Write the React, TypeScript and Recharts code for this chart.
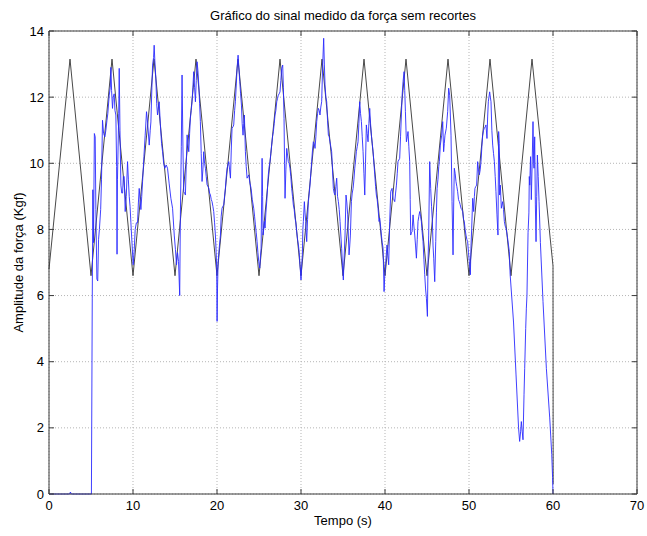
import {
  CartesianGrid,
  Line,
  LineChart,
  ReferenceLine,
  XAxis,
  YAxis,
} from "recharts";

const X_TICKS = [0, 10, 20, 30, 40, 50, 60, 70];
const Y_TICKS = [0, 2, 4, 6, 8, 10, 12, 14];

// sinal de referência (preto): [tempo, força]
const reference: [number, number][] = [
  [0, 6.8], [2.5, 13.15], [5, 6.6], [7.5, 13.15], [10, 6.6], [12.5, 13.15],
  [15, 6.6], [17.5, 13.15], [20, 6.6], [22.5, 13.15], [25, 6.6], [27.5, 13.15],
  [30, 6.6], [32.5, 13.15], [35, 6.6], [37.5, 13.15], [40, 6.6], [42.5, 13.15],
  [45, 6.6], [47.5, 13.15], [50, 6.6], [52.5, 13.15], [55, 6.6], [57.5, 13.15],
  [60, 6.9], [60.02, 0.3],
];

// sinal medido (azul): [tempo, força]
const measured: [number, number][] = [
  [0, 0], [2.45, 0], [2.55, 0.06], [2.65, 0], [5.05, 0], [5.15, 5.9], [5.22, 9.2],
  [5.3, 7.6], [5.4, 10.9], [5.5, 10.8], [5.58, 8.6], [5.7, 6.5], [5.8, 6.44],
  [5.9, 7.7], [6.0, 8.0], [6.15, 8.6], [6.25, 9.5], [6.37, 11.3], [6.5, 10.9],
  [6.65, 10.8], [6.77, 11.0], [6.9, 11.3], [7.0, 11.5], [7.17, 12.06], [7.3, 12.3],
  [7.37, 12.9], [7.45, 12.2], [7.56, 11.66], [7.65, 12.0], [7.76, 12.1], [7.85, 11.6],
  [7.96, 11.46], [8.05, 9.9], [8.1, 7.25], [8.15, 9.5], [8.3, 11.5], [8.36, 12.87],
  [8.45, 11.0], [8.56, 9.34], [8.66, 9.1], [8.76, 9.1], [8.85, 9.6], [8.95, 9.6],
  [9.07, 8.54], [9.2, 9.0], [9.35, 10.05], [9.45, 9.5], [9.55, 9.0], [9.65, 8.7],
  [9.75, 8.2], [9.9, 7.5], [10.02, 6.93], [10.15, 7.4], [10.26, 8.0], [10.4, 8.2],
  [10.54, 8.2], [10.64, 8.8], [10.74, 9.24], [10.84, 8.9], [10.94, 8.6], [11.04, 9.0],
  [11.14, 9.45], [11.3, 10.2], [11.45, 10.85], [11.61, 11.56], [11.75, 11.2],
  [11.93, 10.55], [12.05, 11.0], [12.13, 11.25], [12.25, 12.3], [12.33, 12.97],
  [12.45, 13.2], [12.52, 13.57], [12.6, 13.1], [12.72, 12.57], [12.82, 11.8],
  [12.92, 11.46], [13.02, 11.7], [13.12, 11.86], [13.25, 11.2], [13.4, 10.6],
  [13.52, 10.35], [13.65, 10.0], [13.79, 9.85], [13.95, 9.95], [14.11, 9.85],
  [14.3, 9.4], [14.51, 8.94], [14.71, 8.64], [14.91, 7.83], [15.05, 7.4], [15.18, 6.93],
  [15.3, 7.3], [15.42, 7.03], [15.56, 6.0], [15.64, 8.44], [15.75, 10.5], [15.84, 12.67],
  [15.95, 10.4], [16.04, 9.14], [16.14, 9.1], [16.24, 9.04], [16.34, 10.0], [16.44, 10.86],
  [16.54, 10.6], [16.64, 10.35], [16.74, 10.9], [16.83, 11.36], [16.93, 11.6],
  [17.03, 11.86], [17.13, 12.3], [17.23, 12.77], [17.33, 12.3], [17.43, 11.86],
  [17.53, 12.5], [17.63, 13.07], [17.73, 12.8], [17.83, 12.37], [17.93, 11.8],
  [18.02, 11.26], [18.12, 10.3], [18.22, 9.45], [18.32, 9.8], [18.42, 10.35],
  [18.52, 10.0], [18.62, 9.85], [18.72, 9.6], [18.82, 9.35], [18.92, 9.3], [19.02, 9.25],
  [19.12, 9.1], [19.22, 9.04], [19.32, 8.9], [19.41, 8.84], [19.51, 8.7], [19.61, 8.54],
  [19.71, 8.2], [19.81, 7.83], [19.9, 7.3], [19.96, 6.83], [20.01, 5.22], [20.06, 6.2],
  [20.13, 7.0], [20.25, 7.4], [20.41, 7.83], [20.5, 8.4], [20.6, 8.64], [20.7, 8.7],
  [20.8, 8.74], [20.9, 9.0], [21.0, 9.24], [21.1, 9.6], [21.2, 9.85], [21.3, 9.95],
  [21.4, 10.05], [21.5, 9.8], [21.6, 9.55], [21.7, 10.4], [21.79, 11.06], [21.9, 11.1],
  [21.99, 11.16], [22.1, 11.6], [22.19, 11.86], [22.3, 12.4], [22.39, 12.87],
  [22.51, 13.27], [22.6, 12.9], [22.71, 12.47], [22.81, 12.1], [22.91, 11.76],
  [23.0, 11.2], [23.1, 10.85], [23.18, 11.2], [23.26, 11.46], [23.38, 10.35],
  [23.48, 9.9], [23.58, 9.55], [23.68, 9.6], [23.78, 9.65], [23.92, 9.4], [24.06, 9.24],
  [24.2, 8.9], [24.37, 8.64], [24.47, 8.4], [24.57, 8.14], [24.67, 7.9], [24.77, 7.63],
  [24.87, 7.3], [24.97, 7.03], [25.09, 6.83], [25.18, 7.2], [25.25, 7.43], [25.31, 8.8],
  [25.37, 10.15], [25.43, 9.0], [25.48, 7.83], [25.56, 8.0], [25.64, 8.24], [25.72, 8.04],
  [25.82, 8.5], [25.92, 8.84], [26.02, 9.3], [26.11, 9.65], [26.21, 9.9], [26.31, 10.05],
  [26.41, 10.3], [26.51, 10.55], [26.61, 10.8], [26.71, 10.96], [26.81, 11.2],
  [26.91, 11.46], [27.01, 11.6], [27.11, 11.86], [27.2, 11.95], [27.3, 12.06],
  [27.4, 12.1], [27.5, 12.16], [27.6, 12.5], [27.7, 12.87], [27.82, 12.97], [27.9, 12.3],
  [27.98, 11.36], [28.04, 10.0], [28.1, 8.94], [28.2, 9.8], [28.3, 10.45], [28.4, 10.25],
  [28.49, 10.05], [28.59, 10.0], [28.69, 9.85], [28.79, 9.6], [28.89, 9.24], [28.99, 9.0],
  [29.09, 8.74], [29.19, 8.6], [29.29, 8.34], [29.39, 8.2], [29.49, 7.93], [29.59, 7.7],
  [29.69, 7.53], [29.79, 7.3], [29.88, 6.93], [30.0, 6.47], [30.08, 6.9], [30.16, 7.23],
  [30.22, 8.0], [30.28, 8.24], [30.4, 8.84], [30.48, 8.5], [30.56, 8.24], [30.62, 7.9],
  [30.68, 7.63], [30.78, 8.3], [30.88, 8.84], [30.98, 9.1], [31.07, 9.34], [31.17, 9.7],
  [31.27, 10.05], [31.37, 10.4], [31.47, 10.65], [31.57, 10.6], [31.67, 10.45],
  [31.77, 10.8], [31.87, 11.26], [31.97, 11.5], [32.07, 11.66], [32.17, 11.6],
  [32.26, 11.46], [32.36, 11.7], [32.46, 11.86], [32.58, 12.97], [32.7, 13.78],
  [32.78, 13.0], [32.86, 12.37], [32.96, 12.0], [33.06, 11.86], [33.16, 11.3],
  [33.26, 10.85], [33.36, 10.8], [33.45, 10.65], [33.55, 10.5], [33.65, 10.35],
  [33.75, 9.8], [33.85, 9.24], [33.95, 9.1], [34.05, 9.04], [34.15, 9.3], [34.25, 9.55],
  [34.35, 9.0], [34.45, 8.84], [34.55, 8.6], [34.65, 8.24], [34.75, 7.8], [34.84, 7.43],
  [34.94, 6.9], [35.04, 6.47], [35.14, 7.2], [35.24, 7.83], [35.36, 9.04], [35.46, 8.8],
  [35.56, 8.44], [35.64, 7.8], [35.72, 7.23], [35.8, 7.5], [35.88, 7.83], [36.0, 8.84],
  [36.1, 9.1], [36.2, 9.24], [36.3, 9.5], [36.4, 9.85], [36.5, 10.1], [36.59, 10.35],
  [36.69, 10.5], [36.79, 10.65], [36.89, 11.2], [36.99, 11.86], [37.09, 11.5],
  [37.19, 11.26], [37.29, 10.8], [37.39, 10.35], [37.49, 9.7], [37.59, 9.04],
  [37.68, 10.0], [37.78, 11.16], [37.88, 10.9], [37.98, 10.65], [38.08, 11.2],
  [38.18, 11.66], [38.28, 11.2], [38.38, 10.85], [38.48, 10.6], [38.58, 10.35],
  [38.68, 10.0], [38.78, 9.65], [38.88, 9.3], [38.97, 9.04], [39.07, 8.9], [39.17, 8.64],
  [39.29, 8.24], [39.37, 8.34], [39.47, 8.1], [39.57, 7.83], [39.67, 7.6], [39.77, 7.43],
  [39.89, 6.12], [39.97, 6.6], [40.05, 6.83], [40.14, 7.2], [40.24, 7.53], [40.34, 7.2],
  [40.44, 6.93], [40.56, 8.24], [40.68, 9.14], [40.76, 9.2], [40.84, 9.24], [40.96, 8.94],
  [41.06, 8.9], [41.16, 8.84], [41.26, 9.1], [41.36, 9.34], [41.46, 9.7], [41.55, 10.05],
  [41.65, 10.1], [41.75, 10.15], [41.85, 10.8], [41.95, 11.46], [42.05, 12.1],
  [42.15, 12.47], [42.27, 12.77], [42.35, 12.2], [42.43, 11.56], [42.5, 11.0],
  [42.55, 10.65], [42.65, 10.8], [42.74, 10.96], [42.84, 10.5], [42.94, 10.05],
  [43.0, 8.9], [43.06, 7.83], [43.14, 7.9], [43.22, 7.93], [43.34, 8.44], [43.44, 8.1],
  [43.54, 7.83], [43.64, 7.5], [43.74, 7.13], [43.84, 7.7], [43.93, 8.24], [44.03, 8.4],
  [44.13, 8.54], [44.23, 8.4], [44.33, 8.24], [44.43, 7.9], [44.53, 7.63], [44.63, 7.1],
  [44.73, 6.63], [44.83, 6.2], [44.93, 5.92], [45.05, 5.37], [45.12, 7.0], [45.2, 7.83],
  [45.32, 10.05], [45.44, 9.24], [45.54, 8.7], [45.64, 8.24], [45.72, 7.5], [45.8, 7.13],
  [45.92, 6.42], [46.04, 7.63], [46.12, 8.5], [46.2, 9.24], [46.3, 9.5], [46.4, 9.9],
  [46.47, 10.05], [46.59, 10.55], [46.75, 10.85], [46.87, 11.26], [46.98, 10.35],
  [47.06, 10.6], [47.14, 10.85], [47.3, 11.06], [47.46, 11.56], [47.58, 12.27],
  [47.7, 12.06], [47.86, 10.85], [47.98, 8.84], [48.1, 7.23], [48.18, 8.8], [48.25, 9.85],
  [48.35, 9.7], [48.45, 9.45], [48.55, 9.3], [48.65, 9.14], [48.75, 8.9], [48.85, 8.84],
  [48.95, 8.75], [49.05, 8.64], [49.15, 8.6], [49.25, 8.54], [49.35, 8.3], [49.44, 8.24],
  [49.54, 8.0], [49.64, 7.83], [49.74, 7.7], [49.84, 7.63], [49.94, 7.3], [50.04, 7.03],
  [50.16, 6.63], [50.24, 7.5], [50.32, 8.04], [50.44, 8.94], [50.5, 8.8], [50.56, 8.54],
  [50.64, 9.0], [50.71, 9.24], [50.81, 9.3], [50.91, 9.34], [51.03, 10.05], [51.13, 9.8],
  [51.23, 9.65], [51.33, 9.8], [51.43, 10.05], [51.53, 10.5], [51.63, 10.85],
  [51.73, 11.0], [51.83, 11.06], [51.93, 11.1], [52.02, 11.16], [52.14, 10.75],
  [52.22, 11.4], [52.3, 11.86], [52.46, 12.16], [52.54, 12.0], [52.62, 11.86],
  [52.72, 11.0], [52.82, 10.55], [52.92, 10.3], [53.02, 10.05], [53.12, 9.6],
  [53.21, 9.14], [53.33, 8.44], [53.45, 7.83], [53.53, 10.96], [53.6, 10.6],
  [53.65, 9.04], [53.73, 9.34], [53.85, 8.64], [54.01, 8.84], [54.11, 8.6], [54.21, 8.24],
  [54.31, 8.1], [54.4, 8.04], [54.5, 7.9], [54.6, 7.73], [54.7, 7.53], [54.8, 7.33],
  [54.9, 6.63], [55.3, 5.2], [55.6, 3.6], [55.9, 2.0], [56.03, 1.59], [56.15, 1.9],
  [56.23, 2.19], [56.33, 1.9], [56.43, 1.64], [56.55, 3.0], [56.63, 3.8], [56.75, 5.0],
  [56.83, 5.62], [56.9, 6.0], [57.03, 7.9], [57.13, 8.5], [57.18, 9.6], [57.23, 9.34],
  [57.33, 10.2], [57.42, 8.9], [57.52, 10.0], [57.62, 11.26], [57.7, 10.0], [57.74, 9.85],
  [57.82, 10.8], [57.9, 8.74], [57.98, 7.63], [58.06, 9.0], [58.14, 10.25], [58.24, 9.6],
  [58.34, 8.84], [58.5, 7.6], [58.81, 5.82], [59.21, 3.8], [59.61, 2.3], [59.85, 1.2],
  [59.95, 0.5], [60.0, 0],
];

const referenceData = reference.map(([t, f]) => ({ t, f }));
const measuredData = measured.map(([t, f]) => ({ t, f }));

// layout of the plot box (px inside the svg)
const PLOT_LEFT = 49;
const PLOT_TOP = 31;
const PLOT_RIGHT = 637;
const PLOT_BOTTOM = 494;
const Y_AXIS_W = 40;
const X_AXIS_H = 20;

const FONT = "'Liberation Sans', Arial, Helvetica, sans-serif";
const AXIS_COLOR = "#3a3a3a";
const TICK_LEN = 5;

const BottomTick = (props: any) => {
  const { x, y, payload } = props;
  const axisY = y - 7;
  return (
    <g>
      <line x1={x} x2={x} y1={axisY} y2={axisY - TICK_LEN} stroke={AXIS_COLOR} />
      <line x1={x} x2={x} y1={PLOT_TOP} y2={PLOT_TOP + TICK_LEN} stroke={AXIS_COLOR} />
      <text x={x} y={y} dy="0.71em" textAnchor="middle" fontSize={13} fontFamily={FONT} fill="#000">
        {payload.value}
      </text>
    </g>
  );
};

const LeftTick = (props: any) => {
  const { x, y, payload } = props;
  const axisX = x + 5;
  return (
    <g>
      <line x1={axisX} x2={axisX + TICK_LEN} y1={y} y2={y} stroke={AXIS_COLOR} />
      <line x1={PLOT_RIGHT} x2={PLOT_RIGHT - TICK_LEN} y1={y} y2={y} stroke={AXIS_COLOR} />
      <text x={x} y={y} dy="0.355em" textAnchor="end" fontSize={13} fontFamily={FONT} fill="#000">
        {payload.value}
      </text>
    </g>
  );
};

export default function App() {
  return (
    <div style={{ position: "absolute", left: 0, top: 0, width: 647, height: 536, background: "#fff" }}>
      <div
        style={{
          position: "absolute",
          left: PLOT_LEFT,
          width: PLOT_RIGHT - PLOT_LEFT,
          top: 8,
          textAlign: "center",
          fontFamily: FONT,
          fontSize: 13,
          lineHeight: "16px",
          color: "#000",
        }}
      >
        Gráfico do sinal medido da força sem recortes
      </div>
      <LineChart
        width={647}
        height={536}
        margin={{
          top: PLOT_TOP,
          right: 647 - PLOT_RIGHT,
          bottom: 536 - PLOT_BOTTOM - X_AXIS_H,
          left: PLOT_LEFT - Y_AXIS_W,
        }}
      >
        <CartesianGrid stroke="#b5b5b5" strokeDasharray="1 2" />
        <XAxis
          dataKey="t"
          type="number"
          domain={[0, 70]}
          ticks={X_TICKS}
          interval={0}
          height={X_AXIS_H}
          tickSize={0}
          tickMargin={7}
          tickLine={false}
          stroke={AXIS_COLOR}
          tick={(p: any) => <BottomTick {...p} />}
          label={{
            value: "Tempo (s)",
            position: "bottom",
            offset: 2,
            style: { fontFamily: FONT, fontSize: 13, fill: "#000" },
          }}
        />
        <YAxis
          dataKey="f"
          type="number"
          domain={[0, 14]}
          ticks={Y_TICKS}
          interval={0}
          width={Y_AXIS_W}
          tickSize={0}
          tickMargin={5}
          tickLine={false}
          stroke={AXIS_COLOR}
          tick={(p: any) => <LeftTick {...p} />}
          label={{
            value: "Amplitude da força (Kgf)",
            angle: -90,
            position: "insideLeft",
            offset: 9,
            style: { fontFamily: FONT, fontSize: 13, fill: "#000", textAnchor: "middle" },
          }}
        />
        <ReferenceLine y={14} stroke={AXIS_COLOR} />
        <ReferenceLine x={70} stroke={AXIS_COLOR} />
        <Line
          data={referenceData}
          dataKey="f"
          type="linear"
          stroke="#333333"
          strokeWidth={0.9}
          dot={false}
          activeDot={false}
          isAnimationActive={false}
        />
        <Line
          data={measuredData}
          dataKey="f"
          type="linear"
          stroke="#2a2aff"
          strokeWidth={0.9}
          dot={false}
          activeDot={false}
          isAnimationActive={false}
        />
      </LineChart>
    </div>
  );
}
